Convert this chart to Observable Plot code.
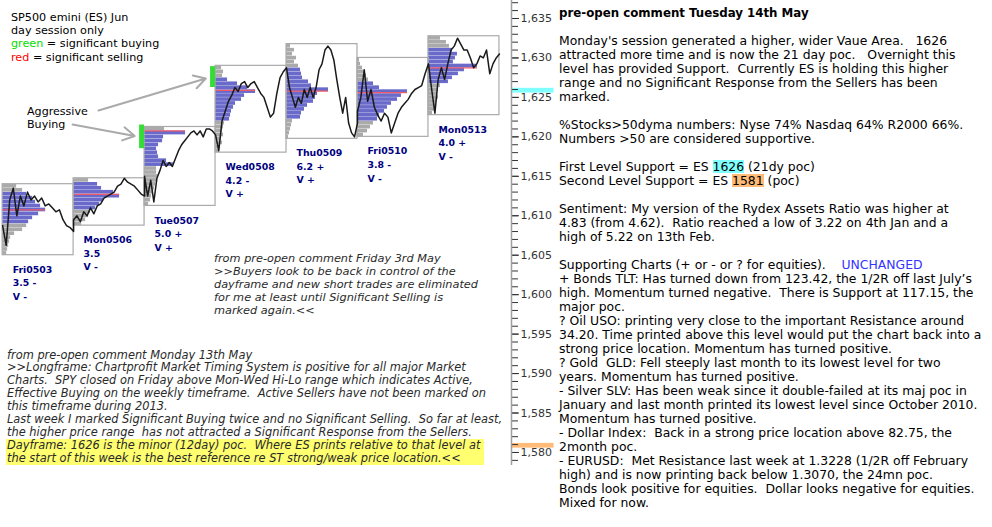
<!DOCTYPE html>
<html><head><meta charset="utf-8">
<script src="https://cdn.jsdelivr.net/npm/d3@7"></script>
<script src="https://cdn.jsdelivr.net/npm/@observablehq/plot@0.6"></script>
<style>
html,body{margin:0;padding:0;background:#fff;}
#wrap{position:relative;width:992px;height:527px;overflow:hidden;font-family:"DejaVu Sans",Verdana,sans-serif;color:#000;}
#wrap svg{position:absolute;left:0;top:0;}
.t{position:absolute;white-space:pre;font-size:11px;}
.it{font-style:italic;color:#2a2a2a;}
.hl{background:#ffff70;}
.ln{height:14px;line-height:14px;white-space:pre;}
.mk{display:inline-block;line-height:13px;}
</style></head><body><div id="wrap"></div>
<script>
// ---------- DATA ----------
const dayNames = ["Fri0503","Mon0506","Tue0507","Wed0508","Thu0509","Fri0510","Mon0513"];
const rangeNotes = ["3.5 -","3.5","5.0 +","4.2 -","6.2 +","3.8 -","4.0 +"];
const volumeNotes = ["V -","V -","V +","V +","V +","V -","V -"];
const dayHigh = [1614, 1614.75, 1621.25, 1629, 1631.75, 1630, 1632.75];
const dayLow  = [1605, 1608.75, 1611.25, 1618, 1619.75, 1620, 1622.75];
const pocPrice = [1610.75, 1612.7, 1620.75, 1625.9, 1625.8, 1625.6, 1628.75];
const vaHigh = [1613, 1614, 1620.5, 1627.25, 1628.5, 1626.75, 1631];
const vaLow  = [1609.25, 1611, 1616.5, 1622.25, 1622.5, 1622.25, 1627];
const profileStep = 0.5;      // price rows of the profile
const dayCapacity = 71;       // volume that fills one day column
// profile volume per 0.5 pt row, from the day high downward
const profileFri0503 = [14,20,24,30,33,38,43,36,30,26,24,20,12,8,7,6,5,4];
const profileMon0506 = [15,24,28,40,46,30,26,22,17,15,12,8];
const profileTue0507 = [20,41,19,18,14,12,13,14,22,29,12,12,14,13,11,10,9,7,6,4];
const profileWed0508 = [6,8,7,12,22,32,40,29,26,20,18,16,15,14,9,8,7,8,6,7,5,4];
const profileThu0509 = [4,8,6,10,8,12,14,15,16,22,25,42,31,29,27,21,18,15,14,6,5,4,3,2];
const profileFri0510 = [2,3,5,7,9,11,16,22,50,44,40,34,30,27,22,20,16,13,10,6];
const profileMon0513 = [12,18,21,24,29,27,25,49,36,30,24,20,12,10,9,10,8,7,6,4];
// intraday prices, evenly spaced through each session
const priceFri0503 = [1608.75,1606.25,1612,1613.5,1610,1612.5,1611.25,1613,1612,1612.5,1611.75,1612.25,1611.25,1611.5,1611,1610.5,1610.75,1609.5,1608.75,1608.5,1608];
const priceMon0506 = [1609.5,1610,1609.25,1610.5,1610,1611,1610.25,1611.25,1611.5,1612.25,1612.5,1612.75,1613,1613.75,1614,1614.75,1614.25,1614,1613.75,1613.25,1612.75,1612.5];
const priceTue0507 = [1615,1612.5,1614.5,1611.75,1614.75,1615.75,1617,1616.25,1616.75,1616.25,1617.25,1618.25,1619,1619.5,1620,1620.5,1620.75,1620.25,1620.75,1620,1621,1621,1620.75,1620.25];
const priceWed0508 = [1620.25,1618.25,1622,1623.25,1624.5,1625.25,1626.25,1625.75,1626.75,1627,1626.25,1626.75,1627,1626.25,1625.5,1625,1623.75,1622.5,1623,1625.5,1627.5,1628.25,1628.75];
const priceThu0509 = [1628.75,1626.25,1625,1623.75,1625,1624.25,1626,1625,1626.25,1625,1626.25,1628.5,1629.25,1631,1631.5,1631,1629.75,1627.25,1625,1623,1625,1621.75,1620.5,1620,1621.75];
const priceFri0510 = [1623.25,1625,1628.5,1624.5,1626,1623.75,1622.75,1622,1623,1622.5,1620.5,1621.75,1623,1623.75,1624.25,1624.75,1625.5,1626,1626.25,1626.5,1628,1629.25];
const priceMon0513 = [1629.25,1626,1623,1627.25,1628.75,1627.25,1629.25,1631,1631.5,1632.5,1631.75,1631,1631,1630,1628.75,1629.25,1630.25,1630,1631,1628,1629.25,1630,1630.5];
// significant buying
const buyDay = [2, 3];
const buyHigh = [1621.5, 1628.9];
const buyLow  = [1618.5, 1626.25];
// "Aggressive Buying" arrow origins (day index, price)
const arrowFromDay = [0.985, 1.351];
const arrowFromPrice = [1621.56, 1623.34];
// support levels
const supportLevels = [1626, 1581];
const supportColors = ["#80ffff", "#ffbb77"];
// axis ticks
const majorTicks = d3.range(1580, 1636, 5);
const minorTicks = d3.range(1579, 1638, 1);

// ---------- BUILD ----------
const profiles = [profileFri0503,profileMon0506,profileTue0507,profileWed0508,profileThu0509,profileFri0510,profileMon0513];
const prices = [priceFri0503,priceMon0506,priceTue0507,priceWed0508,priceThu0509,priceFri0510,priceMon0513];
const dayIdx = dayNames.map((_, i) => i);
const rows = dayIdx.flatMap(d => profiles[d].map((v, i) => {
  const top = dayHigh[d] - i * profileStep;
  const mid = top - profileStep / 2;
  return {d, top, bottom: top - profileStep, v, va: mid <= vaHigh[d] && mid >= vaLow[d]};
}));
const pts = dayIdx.flatMap(d => prices[d].map((p, i, a) => ({t: d + i / (a.length - 1), p})));
const X_MIN = -0.03, X_MAX = 7.17;

const chart = Plot.plot({
  width: 992, height: 527,
  marginTop: 0, marginRight: 481, marginBottom: 62, marginLeft: 0,
  x: {domain: [X_MIN, X_MAX], axis: null},
  y: {domain: [1578.35, 1637.28]},
  color: {type: "identity"},
  style: {fontFamily: "DejaVu Sans, Verdana, sans-serif", fontSize: "11px", color: "#333", background: "transparent", overflow: "visible"},
  marks: [
    Plot.rect(rows.filter(r => !r.va), {x1: r => r.d, x2: r => r.d + r.v / dayCapacity, y1: "bottom", y2: "top", fill: "#aaaaaa", insetTop: 0.3}),
    Plot.rect(rows.filter(r => r.va), {x1: r => r.d, x2: r => r.d + r.v / dayCapacity, y1: "bottom", y2: "top", fill: "#6a6acb", insetTop: 0.3}),
    Plot.ruleY(dayIdx, {y: d => pocPrice[d], x1: d => d, x2: d => d + d3.max(profiles[d]) / dayCapacity, stroke: "#ee5a6a", strokeWidth: 1.2}),
    Plot.rect(dayIdx, {x1: d => d, x2: d => d + 1, y1: d => dayLow[d], y2: d => dayHigh[d], fill: "none", stroke: "#aaaaaa", strokeWidth: 1.2}),
    Plot.rect(buyDay.map((_, i) => i), {x1: i => buyDay[i] - 0.07, x2: i => buyDay[i], y1: i => buyLow[i], y2: i => buyHigh[i], fill: "#33dd33"}),
    Plot.line(pts, {x: "t", y: "p", stroke: "#1a1a1a", strokeWidth: 1.5}),
    Plot.arrow(buyDay.map((_, i) => i), {x1: i => arrowFromDay[i], y1: i => arrowFromPrice[i], x2: i => buyDay[i] - 0.07, y2: i => (buyHigh[i] + buyLow[i]) / 2, stroke: "#aaaaaa", strokeWidth: 2, headLength: 10, insetEnd: 5}),
    Plot.text(dayIdx, {x: d => d, y: d => dayLow[d], text: d => `${dayNames[d]}\n${rangeNotes[d]}\n${volumeNotes[d]}`, textAnchor: "start", lineAnchor: "top", dx: 10, dy: 8, fontWeight: "bold", fontSize: 9.4, fill: "#000080", lineHeight: 1.44}),
    Plot.rect(supportLevels.map((_, i) => i), {x1: () => X_MAX, x2: () => X_MAX + 0.6, y1: i => supportLevels[i] - 0.45, y2: i => supportLevels[i] + 0.15, fill: i => supportColors[i]}),
    Plot.axisY(minorTicks, {anchor: "right", tickSize: 6, tickFormat: () => "", label: null}),
    Plot.axisY(majorTicks, {anchor: "right", tickSize: 7, tickPadding: 2, tickFormat: d3.format(","), fontSize: 11, label: null}),
    Plot.ruleX([X_MAX], {stroke: "#a0a0a0", strokeWidth: 1.5})
  ]
});
const wrap = document.getElementById("wrap");
wrap.appendChild(chart);

function addText(html, css, cls) {
  const div = document.createElement("div");
  div.className = "t " + (cls || "");
  div.style.cssText = css;
  div.innerHTML = html;
  wrap.appendChild(div);
}
addText(`SP500 emini (ES) Jun
day session only
<span style="color:#00e000">green</span> = significant buying
<span style="color:#ff0000">red</span> = significant selling`, "left:11px;top:11px;line-height:13.2px;font-size:11.2px;");
addText(`Aggressive
Buying`, "left:27px;top:106px;line-height:12.7px;font-size:11.1px;");
addText(`from pre-open comment Friday 3rd May
&gt;&gt;Buyers look to be back in control of the
dayframe and new short trades are eliminated
for me at least until Significant Selling is
marked again.&lt;&lt;`, "left:214px;top:252px;line-height:13.1px;font-size:11.3px;", "it");
addText(`from pre-open comment Monday 13th May
&gt;&gt;Longframe: Chartprofit Market Timing System is positive for all major Market
Charts.  SPY closed on Friday above Mon-Wed Hi-Lo range which indicates Active,
Effective Buying on the weekly timeframe.  Active Sellers have not been marked on
this timeframe during 2013.
Last week I marked Significant Buying twice and no Significant Selling.  So far at least,
the higher price range  has not attracted a Significant Response from the Sellers.
<div class="hl" style="width:477px;margin-left:-1px;padding-left:1px;">Dayframe: 1626 is the minor (12day) poc.  Where ES prints relative to that level at
the start of this week is the best reference re ST strong/weak price location.&lt;&lt;</div>`, "left:7px;top:348.5px;line-height:12.9px;font-size:11.4px;", "it");

const commentLines = [
  `<b style="font-size:11.8px">pre-open comment Tuesday 14th May</b>`,
  ``,
  `Monday's session generated a higher, wider Vaue Area.   1626`,
  `attracted more time and is now the 21 day poc.   Overnight this`,
  `level has provided Support.  Currently ES is holding this higher`,
  `range and no Significant Response from the Sellers has been`,
  `marked.`,
  ``,
  `%Stocks&gt;50dyma numbers: Nyse 74% Nasdaq 64% R2000 66%.`,
  `Numbers &gt;50 are considered supportive.`,
  ``,
  `First Level Support = ES <span class="mk" style="background:#80ffff">1626</span> (21dy poc)`,
  `Second Level Support = ES <span class="mk" style="background:#ffbb77">1581</span> (poc)`,
  ``,
  `Sentiment: My version of the Rydex Assets Ratio was higher at`,
  `4.83 (from 4.62).  Ratio reached a low of 3.22 on 4th Jan and a`,
  `high of 5.22 on 13th Feb.`,
  ``,
  `Supporting Charts (+ or - or ? for equities).    <span style="color:#3333ff">UNCHANGED</span>`,
  `+ Bonds TLT: Has turned down from 123.42, the 1/2R off last July’s`,
  `high. Momentum turned negative.  There is Support at 117.15, the`,
  `major poc.`,
  `? Oil USO: printing very close to the important Resistance around`,
  `34.20. Time printed above this level would put the chart back into a`,
  `strong price location. Momentum has turned positive.`,
  `? Gold  GLD: Fell steeply last month to its lowest level for two`,
  `years. Momentum has turned positive.`,
  `- Silver SLV: Has been weak since it double-failed at its maj poc in`,
  `January and last month printed its lowest level since October 2010.`,
  `Momentum has turned positive.`,
  `- Dollar Index:  Back in a strong price location above 82.75, the`,
  `2month poc.`,
  `- EURUSD:  Met Resistance last week at 1.3228 (1/2R off February`,
  `high) and is now printing back below 1.3070, the 24mn poc.`,
  `Bonds look positive for equities.  Dollar looks negative for equities.`,
  `Mixed for now.`
];
addText(commentLines.map(l => `<div class="ln">${l}</div>`).join(""), "left:559px;top:6px;font-size:12.4px;white-space:normal;");
</script></body></html>
